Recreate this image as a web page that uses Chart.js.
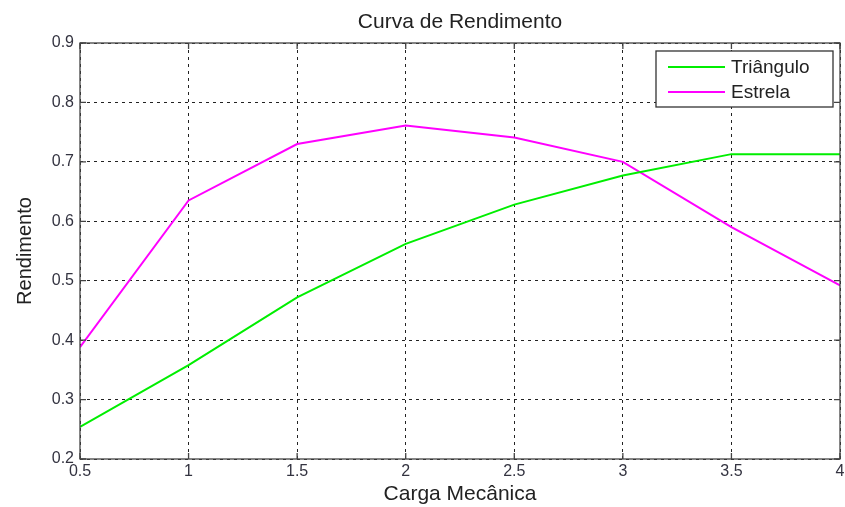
<!DOCTYPE html>
<html>
<head>
<meta charset="utf-8">
<script src="https://cdn.jsdelivr.net/npm/chart.js@4.4.0/dist/chart.umd.min.js"></script>
<style>
  html, body { margin: 0; padding: 0; background: #fff; }
  #wrap { width: 845px; height: 507px; }
</style>
</head>
<body>
<div id="wrap"><canvas id="rendChart" width="845" height="507"></canvas></div>
<script>
// dados
const carga = [0.5, 1, 1.5, 2, 2.5, 3, 3.5, 4];
const triangulo = [0.254, 0.358, 0.472, 0.562, 0.628, 0.677, 0.713, 0.713];
const estrela = [0.388, 0.635, 0.730, 0.761, 0.741, 0.700, 0.590, 0.492];
const yTicks = [0.2, 0.3, 0.4, 0.5, 0.6, 0.7, 0.8, 0.9];

const FONT = 'Liberation Sans, Arial, sans-serif';
const TXT = '#333340';
const TITULO = 'Curva de Rendimento';

function pts(ys) {
  return carga.map((c, i) => ({ x: c, y: ys[i] }));
}

// caixa do eixo + legenda + titulo estilo matlab
const boxPlugin = {
  id: 'boxLegend',
  afterDraw(chart) {
    const ctx = chart.ctx;
    const a = chart.chartArea;
    ctx.save();
    ctx.strokeStyle = '#444';
    ctx.lineWidth = 1.3;
    ctx.strokeRect(a.left, a.top, a.right - a.left, a.bottom - a.top);

    // tick marks para dentro
    const xs = chart.scales.x, ys = chart.scales.y;
    ctx.beginPath();
    xs.ticks.forEach(t => {
      const px = xs.getPixelForValue(t.value);
      ctx.moveTo(px, a.bottom); ctx.lineTo(px, a.bottom - 6);
      ctx.moveTo(px, a.top); ctx.lineTo(px, a.top + 6);
    });
    ys.ticks.forEach(t => {
      const py = ys.getPixelForValue(t.value);
      ctx.moveTo(a.left, py); ctx.lineTo(a.left + 6, py);
      ctx.moveTo(a.right, py); ctx.lineTo(a.right - 6, py);
    });
    ctx.stroke();

    // titulo centrado sobre a area do grafico
    ctx.fillStyle = '#222';
    ctx.font = '21px ' + FONT;
    ctx.textAlign = 'center';
    ctx.textBaseline = 'middle';
    ctx.fillText(TITULO, (a.left + a.right) / 2, 22);

    // legenda
    const lx = a.right - 184, ly = a.top + 8, lw = 177, lh = 56;
    ctx.fillStyle = '#fff';
    ctx.fillRect(lx, ly, lw, lh);
    ctx.strokeStyle = '#333';
    ctx.lineWidth = 1.3;
    ctx.strokeRect(lx, ly, lw, lh);
    ctx.font = '19px ' + FONT;
    ctx.textAlign = 'left';
    chart.data.datasets.forEach((ds, i) => {
      const cy = ly + 16 + i * 25;
      ctx.strokeStyle = ds.borderColor;
      ctx.lineWidth = 2;
      ctx.beginPath();
      ctx.moveTo(lx + 12, cy); ctx.lineTo(lx + 69, cy);
      ctx.stroke();
      ctx.fillStyle = '#222';
      ctx.fillText(ds.label, lx + 75, cy + 1);
    });
    ctx.restore();
  }
};

new Chart(document.getElementById('rendChart').getContext('2d'), {
  type: 'line',
  data: {
    datasets: [
      { label: 'Triângulo', data: pts(triangulo), borderColor: '#00ee00', borderWidth: 2, pointRadius: 0, tension: 0 },
      { label: 'Estrela', data: pts(estrela), borderColor: '#ff00ff', borderWidth: 2, pointRadius: 0, tension: 0 }
    ]
  },
  plugins: [boxPlugin],
  options: {
    responsive: false,
    animation: false,
    layout: { autoPadding: false, padding: { left: 13, right: 5, top: 43, bottom: 0 } },
    plugins: {
      legend: { display: false },
      tooltip: { enabled: false },
      title: { display: false }
    },
    scales: {
      x: {
        type: 'linear',
        min: 0.5, max: 4,
        afterFit: s => { s.height = 48; s.paddingLeft = 0; s.paddingRight = 0; },
        ticks: { stepSize: 0.5, color: TXT, font: { family: FONT, size: 16 }, padding: 3, maxRotation: 0,
                 callback: v => String(v) },
        grid: { color: '#222', lineWidth: 1, tickLength: 0 },
        border: { display: false, dash: [3, 4] },
        title: { display: true, text: 'Carga Mecânica', color: '#222', font: { family: FONT, size: 21 }, padding: { top: 0, bottom: 0 } }
      },
      y: {
        min: 0.2, max: 0.9,
        afterFit: s => { s.width = 67; },
        afterBuildTicks: s => { s.ticks = yTicks.map(v => ({ value: v })); },
        ticks: { color: TXT, font: { family: FONT, size: 16 }, padding: 6, callback: v => v.toFixed(1) },
        grid: { color: '#222', lineWidth: 1, tickLength: 0 },
        border: { display: false, dash: [3, 4] },
        title: { display: true, text: 'Rendimento', color: '#222', font: { family: FONT, size: 20 }, padding: { top: 0, bottom: 4 } }
      }
    }
  }
});
</script>
</body>
</html>
